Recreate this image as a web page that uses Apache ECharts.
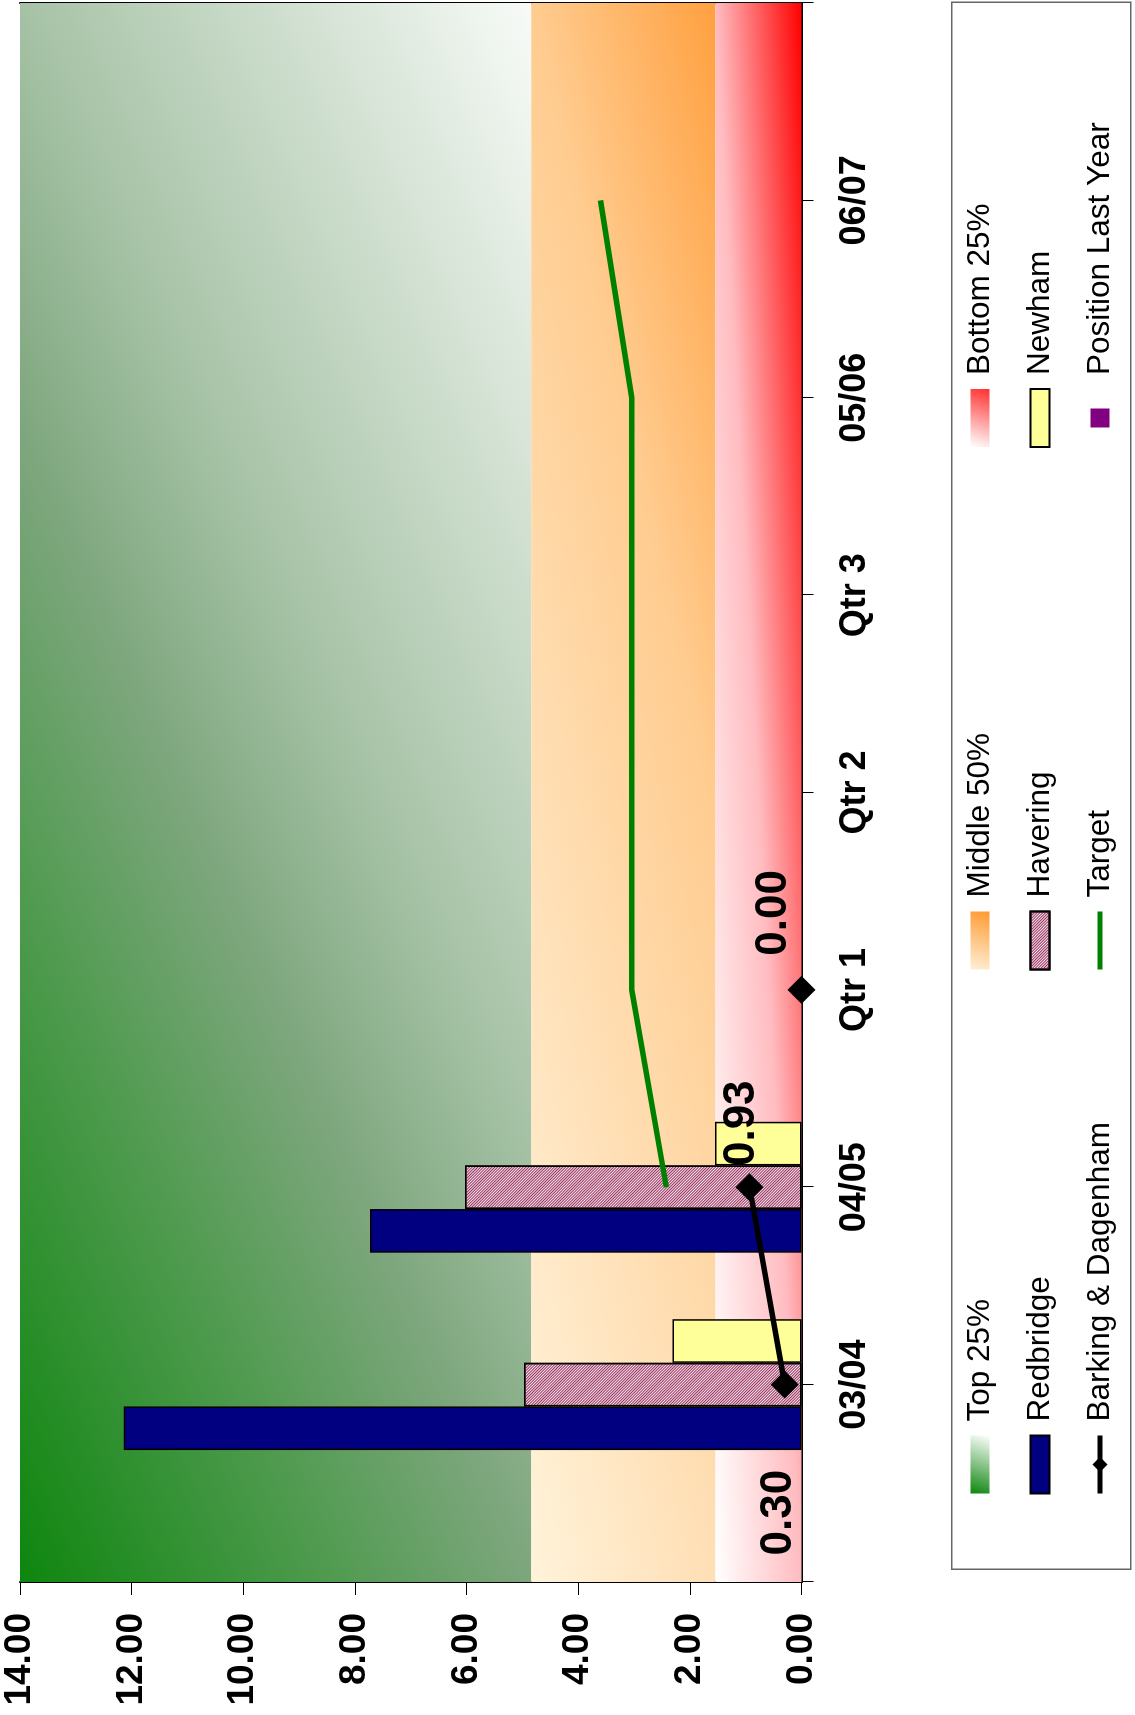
<!DOCTYPE html>
<html>
<head>
<meta charset="utf-8">
<script src="https://cdn.jsdelivr.net/npm/echarts@6/dist/echarts.min.js"></script>
<style>
html,body{margin:0;padding:0;background:#fff;overflow:hidden;width:1135px;height:1715px;}
#wrap{position:absolute;left:0;top:0;width:1715px;height:1135px;transform-origin:0 0;transform:translate(0,1715px) rotate(-90deg);}
#chart{width:1715px;height:1135px;}
</style>
</head>
<body>
<div id="wrap"><div id="chart"></div></div>
<script>
// ---- data ----
const categories = ['03/04', '04/05', 'Qtr 1', 'Qtr 2', 'Qtr 3', '05/06', '06/07'];
const redbridge = [12.14, 7.73, null, null, null, null, null];
const havering = [4.97, 6.03, null, null, null, null, null];
const newham = [2.31, 1.55, null, null, null, null, null];
const barkingDagenham = [0.30, 0.93, null, null, null, null, null];
const barkingDagenhamQtr = [null, null, 0.00, null, null, null, null];
const target = [null, 2.42, 3.04, 3.04, 3.04, 3.04, 3.60];
const positionLastYear = [null, null, null, null, null, null, null];
const bandTop25 = [4.84, 14];
const bandMiddle50 = [1.54, 4.84];
const bandBottom25 = [0, 1.54];
const valueMin = 0, valueMax = 14, valueInterval = 2;

// ---- layout / style ----
const FONT = 'Liberation Sans, Arial, sans-serif';
const W = 1715, H = 1135;
const gridL = 133, gridR = 2, gridT = 20, gridB = 333.5;
const gridW = W - gridL - gridR, gridH = H - gridT - gridB;
const pxPerUnit = gridH / (valueMax - valueMin);
const labelOffsets = [[-128, -6], [64, -8], [77, -28], null, null, null, null];

function diagGrad(wPx, hPx, a, stops) {
  const b = 1 - a;
  const S = a * a / (wPx * wPx) + b * b / (hPx * hPx);
  return {type: 'linear', x: 0, y: 0, x2: a / (wPx * wPx * S), y2: b / (hPx * hPx * S),
    colorStops: stops.map(s => ({offset: s[0], color: s[1]}))};
}
function simpleGrad(stops) {
  return {type: 'linear', x: 0, y: 0, x2: 1, y2: 1, colorStops: stops.map(s => ({offset: s[0], color: s[1]}))};
}
const greenStops = [[0, '#0E860E'], [0.25, '#4E9A4E'], [0.42, '#7DA67D'], [0.58, '#A6C2A6'], [1, '#F8FBF8']];
const orangeStops = [[0, '#FFF3DA'], [0.34, '#FFDFB5'], [0.66, '#FFCC90'], [1, '#FFA040']];
const redStops = [[0, '#FFFFFF'], [0.5, '#FFBCC0'], [1, '#FF0000']];

const gTop = diagGrad(gridW, (bandTop25[1] - bandTop25[0]) * pxPerUnit, 0.58, greenStops);
const gMid = diagGrad(gridW, (bandMiddle50[1] - bandMiddle50[0]) * pxPerUnit, 0.66, orangeStops);
const gBot = diagGrad(gridW, (bandBottom25[1] - bandBottom25[0]) * pxPerUnit, 0.5, redStops);

const toPairs = arr => arr.map((v, i) => [i + 1, v]);
const withLabels = arr => arr.map((v, i) => {
  const item = {value: [i + 1, v]};
  if (v !== null && labelOffsets[i]) item.label = {offset: labelOffsets[i]};
  return item;
});

function bandSeries(name, range, grad) {
  return {
    name: name, type: 'line', data: [], silent: true, z: 0,
    itemStyle: {color: grad}, lineStyle: {color: grad},
    markArea: {silent: true, itemStyle: {color: grad, borderWidth: 0},
      data: [[{yAxis: range[0]}, {yAxis: range[1]}]]}
  };
}

const dataLabel = {
  show: true, position: 'inside', color: '#000', fontSize: 44, fontWeight: 'bold', fontFamily: FONT,
  formatter: p => p.value[1].toFixed(2)
};

const legendText = {fontSize: 31.5, fontFamily: FONT, color: '#000', lineHeight: 36, padding: [0, 0, 0, 9]};
const legendBase = {orient: 'vertical', top: 962, padding: 0, itemWidth: 58, itemHeight: 19, itemGap: 24, selectedMode: false, textStyle: legendText};

const chart = echarts.init(document.getElementById('chart'), null, {renderer: 'canvas'});
chart.setOption({
  animation: false,
  backgroundColor: '#fff',
  textStyle: {fontFamily: FONT},
  grid: {left: gridL, right: gridR, top: gridT, bottom: gridB, containLabel: false},
  xAxis: [{
    type: 'value', min: 0, max: categories.length + 1, interval: 1,
    axisLine: {show: true, onZero: false, lineStyle: {color: '#000', width: 2}},
    axisTick: {show: true, length: 12, lineStyle: {color: '#000', width: 1}},
    axisLabel: {formatter: v => categories[v - 1] || '', fontSize: 36, fontWeight: 'bold', margin: 36, color: '#000', fontFamily: FONT},
    splitLine: {show: false}
  }],
  yAxis: [{
    type: 'value', min: valueMin, max: valueMax, interval: valueInterval,
    axisLine: {show: true, lineStyle: {color: '#000', width: 2}},
    axisTick: {show: true, length: 13, lineStyle: {color: '#000', width: 1}},
    axisLabel: {formatter: v => v.toFixed(2), fontSize: 37, fontWeight: 'bold', margin: 31, color: '#000', fontFamily: FONT},
    splitLine: {show: false}
  }, {
    type: 'value', min: valueMin, max: valueMax, interval: valueInterval, position: 'right',
    axisLine: {show: true, lineStyle: {color: '#000', width: 2}},
    axisTick: {show: false}, axisLabel: {show: false}, splitLine: {show: false}
  }],
  legend: [
    Object.assign({}, legendBase, {left: 219, data: [
      {name: 'Top 25%', icon: 'rect', itemStyle: {color: simpleGrad([[0, '#0E860E'], [1, '#FFFFFF']]), borderWidth: 0}},
      {name: 'Redbridge', icon: 'rect'},
      {name: 'Barking & Dagenham', lineStyle: {width: 5}}
    ]}),
    Object.assign({}, legendBase, {left: 743, data: [
      {name: 'Middle 50%', icon: 'rect', itemStyle: {color: simpleGrad([[0, '#FFF0D8'], [1, '#FF9A30']]), borderWidth: 0}},
      {name: 'Havering', icon: 'rect'},
      {name: 'Target', itemStyle: {opacity: 0}, lineStyle: {width: 5}}
    ]}),
    Object.assign({}, legendBase, {left: 1267, data: [
      {name: 'Bottom 25%', icon: 'rect', itemStyle: {color: simpleGrad([[0, '#FFFFFF'], [1, '#FF3030']]), borderWidth: 0}},
      {name: 'Newham', icon: 'rect'},
      {name: 'Position Last Year', icon: 'path://M0,0L10,0L10,10L0,10Z', itemStyle: {opacity: 1}}
    ]})
  ],
  graphic: [{
    type: 'rect', left: 145, top: 951, z: -1, silent: true,
    shape: {x: 0, y: 0, width: 1567, height: 179},
    style: {fill: 'rgba(0,0,0,0)', stroke: '#666', lineWidth: 1.5}
  }],
  series: [
    bandSeries('Top 25%', bandTop25, gTop),
    bandSeries('Middle 50%', bandMiddle50, gMid),
    bandSeries('Bottom 25%', bandBottom25, gBot),
    {
      name: 'Redbridge', type: 'bar', data: toPairs(redbridge), barGap: '0%', barCategoryGap: '33.7%', z: 2,
      itemStyle: {color: '#000080', borderColor: '#000', borderWidth: 1.5}
    },
    {
      name: 'Havering', type: 'bar', data: toPairs(havering), barGap: '0%', barCategoryGap: '33.7%', z: 2,
      itemStyle: {color: '#F4E4EC', borderColor: '#000', borderWidth: 1.5,
        decal: {symbol: 'rect', symbolSize: 1, color: '#99335F', dashArrayX: [1, 0], dashArrayY: [1, 1], rotation: Math.PI / 4}}
    },
    {
      name: 'Newham', type: 'bar', data: toPairs(newham), barGap: '0%', barCategoryGap: '33.7%', z: 2,
      itemStyle: {color: '#FFFF99', borderColor: '#000', borderWidth: 1.5}
    },
    {
      name: 'Barking & Dagenham', type: 'line', data: withLabels(barkingDagenham), z: 6, clip: false,
      symbol: 'diamond', symbolSize: 28, showAllSymbol: true,
      lineStyle: {color: '#000', width: 5.5}, itemStyle: {color: '#000'}, label: dataLabel
    },
    {
      name: 'Barking & Dagenham', type: 'line', data: withLabels(barkingDagenhamQtr), z: 6, clip: false,
      symbol: 'diamond', symbolSize: 28, showAllSymbol: true,
      lineStyle: {color: '#000', width: 5.5}, itemStyle: {color: '#000'}, label: dataLabel
    },
    {
      name: 'Target', type: 'line', data: toPairs(target), z: 5, symbol: 'none',
      lineStyle: {color: '#008000', width: 5.5}, itemStyle: {color: '#008000'}
    },
    {
      name: 'Position Last Year', type: 'scatter', data: toPairs(positionLastYear), symbol: 'rect', symbolSize: 16,
      itemStyle: {color: '#800080', opacity: 1}
    }
  ]
});
</script>
</body>
</html>
